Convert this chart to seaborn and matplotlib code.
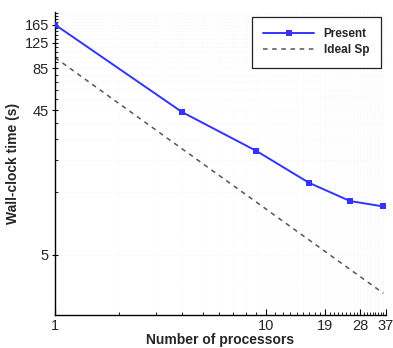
import matplotlib
matplotlib.use("Agg")
import matplotlib.pyplot as plt
import matplotlib.ticker as mticker
import numpy as np
import pandas as pd
import seaborn as sns

# Processor counts and measured wall-clock times (s)
processors = [1, 4, 9, 16, 25, 36]
present_time = [165, 43.7, 24.2, 14.9, 11.3, 10.4]
ideal_time = [100, 25, 11.11, 6.25, 4.0, 2.78]

x_ticks = [1, 10, 19, 28, 37]
y_ticks = [5, 45, 85, 125, 165]

sns.set_theme(style="white")
plt.rcParams["font.family"] = ["Liberation Sans", "DejaVu Sans"]

df = pd.DataFrame({
    "processors": processors * 2,
    "time": present_time + ideal_time,
    "series": ["Present"] * len(processors) + ["Ideal Sp"] * len(processors),
})

fig = plt.figure(figsize=(3.93, 3.48), dpi=100)
ax = fig.add_axes([0.140, 0.095, 0.842, 0.8705])

sns.lineplot(data=df[df.series == "Present"], x="processors", y="time",
             ax=ax, color="#3333ff", lw=1.4, marker="s", markersize=4.5,
             markeredgewidth=0, label="Present", zorder=3)
sns.lineplot(data=df[df.series == "Ideal Sp"], x="processors", y="time",
             ax=ax, color="#555555", lw=1.1, dashes=False, label="Ideal Sp",
             zorder=2)
ax.lines[-1].set_linestyle((0, (3, 3)))

ax.set_xscale("log")
ax.set_yscale("log")
ax.set_xlim(1, 37)
ax.set_ylim(2, 200)

ax.xaxis.set_major_locator(mticker.FixedLocator(x_ticks))
ax.xaxis.set_major_formatter(mticker.FixedFormatter([str(v) for v in x_ticks]))
ax.xaxis.set_minor_locator(mticker.FixedLocator([v for v in range(2, 37) if v not in x_ticks]))
ax.xaxis.set_minor_formatter(mticker.NullFormatter())

ax.yaxis.set_major_locator(mticker.FixedLocator(y_ticks))
ax.yaxis.set_major_formatter(mticker.FixedFormatter([str(v) for v in y_ticks]))
ax.yaxis.set_minor_locator(mticker.FixedLocator([v for v in range(13, 201, 8) if v not in y_ticks]))
ax.yaxis.set_minor_formatter(mticker.NullFormatter())

ax.tick_params(axis="x", which="major", direction="in", length=4, width=0.8,
               labelsize=10.5, pad=3, color="black")
ax.tick_params(axis="x", which="minor", direction="in", length=2.5, width=0.6,
               color="black", bottom=True)
ax.tick_params(axis="y", which="major", direction="inout", length=5, width=0.8,
               labelsize=10.5, pad=2, color="black", left=True)
ax.tick_params(axis="y", which="minor", direction="in", length=2.5, width=0.6,
               color="black", left=True)
ax.tick_params(axis="both", which="major", bottom=True, left=True)

ax.grid(True, which="both", color="#f0f0f0", lw=0.5, linestyle=(0, (1, 2)))

for side in ["top", "right"]:
    ax.spines[side].set_visible(False)
for side in ["left", "bottom"]:
    ax.spines[side].set_color("black")
    ax.spines[side].set_linewidth(1.0)

ax.set_xlabel("Number of processors", fontsize=10, fontweight="bold", labelpad=0)
ax.set_ylabel("Wall-clock time (s)", fontsize=10, fontweight="bold", labelpad=3)

leg = ax.legend(loc="upper right", bbox_to_anchor=(0.985, 0.985),
                prop={"weight": "bold", "size": 8.5}, frameon=True, fancybox=False,
                handlelength=4.3, borderpad=1.0, labelspacing=0.3,
                handletextpad=0.8, borderaxespad=0)
leg.get_frame().set_edgecolor("#222222")
leg.get_frame().set_linewidth(0.9)
leg.get_frame().set_alpha(1)

fig.savefig("out.png", dpi=100)
